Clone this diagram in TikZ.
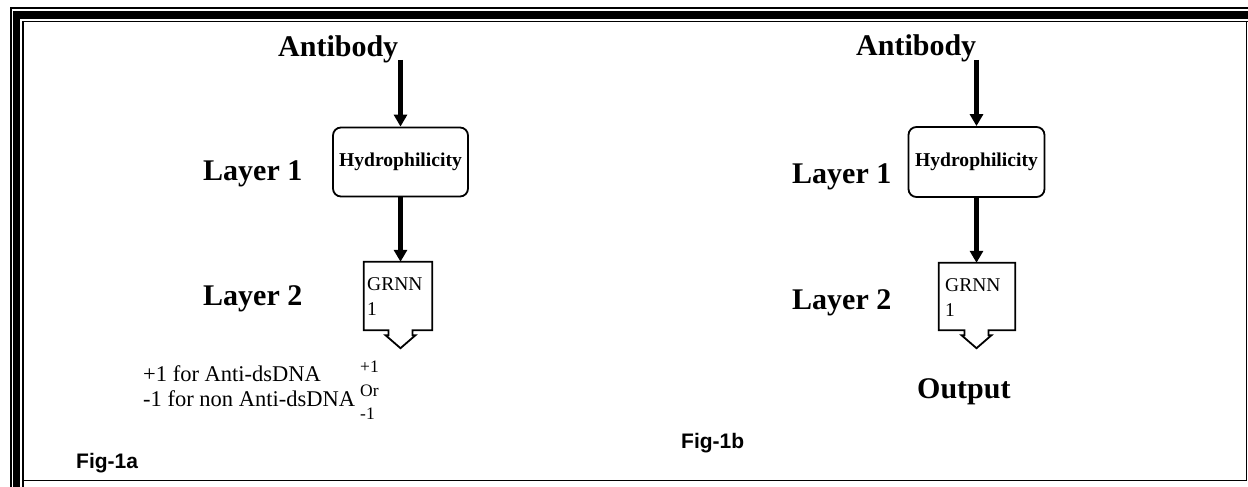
\documentclass[tikz,border=0pt]{standalone}
\usepackage{fontspec}
\setmainfont{Liberation Serif}
\newfontfamily\figfont{Liberation Sans}
\usetikzlibrary{arrows.meta}
\tikzset{
  big/.style={font=\fontsize{30}{35}\selectfont\bfseries, inner sep=0pt},
  hbox/.style={draw, line width=1.8pt, rounded corners=8pt, minimum width=135pt, minimum height=69pt,
    font=\fontsize{19.6}{23}\selectfont\bfseries, inner sep=0pt},
  gspace/.style={inner sep=0pt, minimum height=68pt},
  gline/.style={line width=1.8pt, line join=miter},
  gtext/.style={font=\fontsize{19.5}{25}\selectfont, inner sep=0pt, align=left, anchor=north west},
  flow/.style={line width=4.5pt, -{Triangle[width=13pt,length=12pt]}},
  note/.style={font=\fontsize{22.5}{25}\selectfont, inner sep=0pt, align=left, anchor=north west},
  small/.style={font=\fontsize{17.5}{23.5}\selectfont, inner sep=0pt, align=left, anchor=north west},
  figlab/.style={font=\figfont\bfseries\fontsize{21}{25}\selectfont, inner sep=0pt, anchor=base west},
}
\begin{document}
\begin{tikzpicture}[x=1pt,y=-1pt]
\useasboundingbox (0,0) rectangle (1248,487);
% frame
\draw[line width=1.5pt] (10.75,487) -- (10.75,8) -- (1248,8);
\fill (13,11) rectangle (1248,19);
\fill (13,11) rectangle (20,487);
\draw[line width=1.5pt] (23,487) -- (23,21.5) -- (1248,21.5);
\draw[line width=1.5pt] (1246.5,21.5) -- (1246.5,480.5) -- (23,480.5);

% ---------- Fig 1a ----------
\node[big, anchor=base west] (ab1) at (278,57) {Antibody};
\node[hbox] (h1) at (400.5,162) {Hydrophilicity};
\node[gspace, minimum width=68pt] (g1) at (398,296) {};
\node[big, anchor=base west] (l11) at (203,180) {Layer 1};
\node[big, anchor=base west] (l12) at (203,305) {Layer 2};
\node[gtext] (g1t) at (367,277) {GRNN\\1};
\coordinate (a1) at (h1.south |- g1.south);
\draw[gline] (g1.south west) -- (g1.north west) -- (g1.north east) -- (g1.south east)
  -- ([xshift=12pt]a1) -- ([xshift=12pt,yshift=-5pt]a1) -- ([xshift=15pt,yshift=-5pt]a1)
  -- ([yshift=-18pt]a1) -- ([xshift=-15pt,yshift=-5pt]a1) -- ([xshift=-12pt,yshift=-5pt]a1)
  -- ([xshift=-12pt]a1) -- cycle;
\draw[flow] (h1.north |- ab1.base) ++(0,3) -- (h1.north);
\draw[flow] (h1.south) -- (h1.south |- g1.north);
\node[note] (n1) at (143,365) {+1 for Anti-dsDNA\\-1 for non Anti-dsDNA};
\node[small] (o1) at (360,361) {+1\\Or\\-1};
\node[figlab] (f1) at (76,468) {Fig-1a};

% ---------- Fig 1b ----------
\node[big, anchor=base west] (ab2) at (856,56) {Antibody};
\node[hbox, minimum width=136pt, minimum height=70pt] (h2) at (976.5,162) {Hydrophilicity};
\node[gspace, minimum width=76pt, minimum height=67pt] (g2) at (977,296.5) {};
\node[big, anchor=base west] (l21) at (792,183) {Layer 1};
\node[big, anchor=base west] (l22) at (792,309) {Layer 2};
\node[gtext] (g2t) at (945,278) {GRNN\\1};
\coordinate (a2) at (h2.south |- g2.south);
\draw[gline] (g2.south west) -- (g2.north west) -- (g2.north east) -- (g2.south east)
  -- ([xshift=12pt]a2) -- ([xshift=12pt,yshift=-5pt]a2) -- ([xshift=15pt,yshift=-5pt]a2)
  -- ([yshift=-18pt]a2) -- ([xshift=-15pt,yshift=-5pt]a2) -- ([xshift=-12pt,yshift=-5pt]a2)
  -- ([xshift=-12pt]a2) -- cycle;
\draw[flow] (h2.north |- ab2.base) ++(0,4) -- (h2.north);
\draw[flow] (h2.south) -- (h2.south |- g2.north);
\node[big, anchor=base west] (out) at (917,398) {Output};
\node[figlab] (f2) at (681,448) {Fig-1b};
\end{tikzpicture}
\end{document}
